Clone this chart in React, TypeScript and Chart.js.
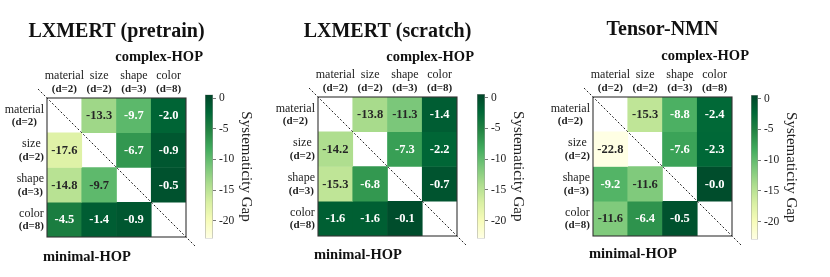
import React, { useEffect, useRef } from "react";
import { Chart, registerables } from "chart.js";

Chart.register(...registerables);

// ---------------- data ----------------
const COLS = ["material", "size", "shape", "color"];
const DIMS = ["(d=2)", "(d=2)", "(d=3)", "(d=8)"];
const TITLES = ["LXMERT (pretrain)", "LXMERT (scratch)", "Tensor-NMN"];
const TOP_LABEL = "complex-HOP";
const BOTTOM_LABEL = "minimal-HOP";
const CB_LABEL = "Systematicity Gap";

// rows: minimal-HOP attribute, columns: complex-HOP attribute (diagonal empty)
const PRETRAIN: (number | null)[][] = [
  [null, -13.3, -9.66, -2.0],
  [-17.6, null, -6.7, -0.9],
  [-14.8, -9.74, null, -0.5],
  [-4.5, -1.4, -0.9, null],
];
const SCRATCH: (number | null)[][] = [
  [null, -13.8, -11.3, -1.4],
  [-14.2, null, -7.3, -2.2],
  [-15.3, -6.8, null, -0.7],
  [-1.6, -1.6, -0.1, null],
];
const TENSOR_NMN: (number | null)[][] = [
  [null, -15.3, -8.8, -2.4],
  [-22.8, null, -7.6, -2.3],
  [-9.2, -11.6, null, -0.04],
  [-11.6, -6.4, -0.5, null],
];

const CB_MIN = -22.9;
const CB_MAX = 0.6;
const CB_TICKS = [0, -5, -10, -15, -20];
const DARK_TEXT_BELOW = -9.7;

// ---------------- style / layout ----------------
const FF = "'Liberation Serif', 'Times New Roman', serif";
const YLGN = [
  "#ffffe5", "#f7fcb9", "#d9f0a3", "#addd8e", "#78c679",
  "#41ab5d", "#238443", "#006837", "#004529",
];
const H = 277;
const MAT = 139;

const PANELS = [
  { data: PRETRAIN, title: TITLES[0], mat: { l: 47, t: 98 }, cb: { l: 205, t: 94.5, r: 213, b: 238.5 }, titleY: 32, topY: 57, botY: 257 },
  { data: SCRATCH, title: TITLES[1], mat: { l: 318, t: 97 }, cb: { l: 477, t: 94, r: 485, b: 238.5 }, titleY: 31.5, topY: 57, botY: 255.5 },
  { data: TENSOR_NMN, title: TITLES[2], mat: { l: 593, t: 97 }, cb: { l: 750.5, t: 95, r: 758, b: 239.5 }, titleY: 30, topY: 56, botY: 254.5 },
];

function hexToRgb(h: string) {
  return [parseInt(h.slice(1, 3), 16), parseInt(h.slice(3, 5), 16), parseInt(h.slice(5, 7), 16)];
}
function ylgn(v: number) {
  let t = (v - CB_MIN) / (CB_MAX - CB_MIN);
  t = Math.max(0, Math.min(1, t));
  const p = t * 8;
  const i = Math.min(7, Math.floor(p));
  const f = p - i;
  const a = hexToRgb(YLGN[i]);
  const b = hexToRgb(YLGN[i + 1]);
  const c = a.map((x, k) => Math.round(x + (b[k] - x) * f));
  return `rgb(${c[0]},${c[1]},${c[2]})`;
}

const HEAT_LEFT = 47;
const HEAT_W = 210;
const CB_AXIS_W = 42;
const CB_PAD = 4;

function Panel({ p }: { p: (typeof PANELS)[number] }) {
  const heatRef = useRef<HTMLCanvasElement>(null);
  const cbRef = useRef<HTMLCanvasElement>(null);
  const x0 = p.mat.l - HEAT_LEFT;
  const cbX0 = p.cb.l - CB_PAD;
  const cbW = CB_PAD + (p.cb.r - p.cb.l) + CB_AXIS_W + CB_PAD;

  useEffect(() => {
    const textPlugin = {
      id: "heatText",
      afterDraw(chart: any) {
        const { ctx, chartArea } = chart;
        const { left, right, top, bottom } = chartArea;
        const xs = chart.scales.x;
        const ys = chart.scales.y;
        ctx.save();
        // frame
        ctx.strokeStyle = "#333";
        ctx.lineWidth = 1.1;
        ctx.strokeRect(left, top, right - left, bottom - top);
        // diagonal
        ctx.setLineDash([2, 2]);
        ctx.lineWidth = 1;
        ctx.strokeStyle = "#222";
        ctx.beginPath();
        ctx.moveTo(left - 9, top - 9);
        ctx.lineTo(right + 9, bottom + 9);
        ctx.stroke();
        ctx.setLineDash([]);
        // cell values
        ctx.textAlign = "center";
        ctx.textBaseline = "middle";
        ctx.font = `bold 12.5px ${FF}`;
        p.data.forEach((row, r) => {
          row.forEach((v, c) => {
            if (v === null) return;
            const x = xs.getPixelForValue(c);
            const y = ys.getPixelForValue(r + 0.5);
            ctx.fillStyle = v < DARK_TEXT_BELOW ? "#262626" : "#ffffff";
            ctx.fillText(v.toFixed(1), x, y + 0.5);
          });
        });
        // column labels
        ctx.fillStyle = "#222";
        COLS.forEach((c, i) => {
          const x = xs.getPixelForValue(i);
          ctx.font = `12px ${FF}`;
          ctx.fillText(c, x, top - 22);
          ctx.font = `bold 11px ${FF}`;
          ctx.fillText(DIMS[i], x, top - 9);
        });
        // row labels
        COLS.forEach((c, i) => {
          const y = ys.getPixelForValue(i + 0.5);
          ctx.font = `12px ${FF}`;
          const w1 = ctx.measureText(c).width;
          ctx.font = `bold 11px ${FF}`;
          const w2 = ctx.measureText(DIMS[i]).width;
          const cx = left - 3 - Math.max(w1, w2) / 2;
          ctx.font = `12px ${FF}`;
          ctx.fillText(c, cx, y - 6);
          ctx.font = `bold 11px ${FF}`;
          ctx.fillText(DIMS[i], cx, y + 7);
        });
        // titles
        ctx.fillStyle = "#111";
        ctx.font = `bold 20px ${FF}`;
        ctx.fillText(p.title, (left + right) / 2, p.titleY);
        ctx.font = `bold 14.5px ${FF}`;
        ctx.textAlign = "right";
        ctx.fillText(TOP_LABEL, right + 17, p.topY);
        ctx.textAlign = "left";
        ctx.fillText(BOTTOM_LABEL, left - 4, p.botY);
        ctx.restore();
      },
    };

    const heat = new Chart(heatRef.current as HTMLCanvasElement, {
      type: "bar",
      data: {
        labels: COLS,
        datasets: p.data.map((row, r) => ({
          label: COLS[r],
          data: row.map((v) => (v === null ? null : [r, r + 1])) as any,
          backgroundColor: row.map((v) => (v === null ? "rgba(0,0,0,0)" : ylgn(v))),
          grouped: false,
          barPercentage: 1,
          categoryPercentage: 1,
          borderWidth: 0,
        })),
      },
      options: {
        responsive: false,
        animation: false,
        devicePixelRatio: 1,
        layout: {
          padding: { left: HEAT_LEFT, top: p.mat.t, right: HEAT_W - HEAT_LEFT - MAT, bottom: H - p.mat.t - MAT },
        },
        plugins: { legend: { display: false }, tooltip: { enabled: false } },
        scales: {
          x: { display: false },
          y: { display: false, min: 0, max: 4, reverse: true },
        },
      } as any,
      plugins: [textPlugin],
    });

    const cb = new Chart(cbRef.current as HTMLCanvasElement, {
      type: "bar",
      data: {
        labels: [""],
        datasets: [
          {
            data: [[CB_MIN, CB_MAX]] as any,
            backgroundColor: (ctx: any) => {
              const chart = ctx.chart;
              const area = chart.chartArea;
              if (!area) return YLGN[4];
              const g = chart.ctx.createLinearGradient(0, area.bottom, 0, area.top);
              YLGN.forEach((col, i) => g.addColorStop(i / 8, col));
              return g;
            },
            borderColor: "#999",
            borderWidth: 0.8,
            borderSkipped: false,
            barPercentage: 1,
            categoryPercentage: 1,
          },
        ],
      },
      options: {
        responsive: false,
        animation: false,
        devicePixelRatio: 1,
        layout: { padding: { left: CB_PAD, right: CB_PAD, top: p.cb.t, bottom: H - p.cb.b } },
        plugins: { legend: { display: false }, tooltip: { enabled: false } },
        scales: {
          x: { display: false },
          y: {
            position: "right",
            min: CB_MIN,
            max: CB_MAX,
            afterBuildTicks: (s: any) => {
              s.ticks = CB_TICKS.map((v) => ({ value: v }));
            },
            afterFit: (s: any) => {
              s.width = CB_AXIS_W;
            },
            grid: { drawOnChartArea: false, drawTicks: true, tickLength: 3, color: "#555", lineWidth: 0.8 },
            border: { display: false },
            ticks: { padding: 3, color: "#222", font: { family: FF, size: 11.5 } },
            title: { display: true, text: CB_LABEL, color: "#222", padding: 0, font: { family: FF, size: 15 } },
          },
        },
      } as any,
    });

    return () => {
      heat.destroy();
      cb.destroy();
    };
  }, []);

  return (
    <>
      <canvas
        ref={heatRef}
        width={HEAT_W}
        height={H}
        style={{ position: "absolute", left: x0, top: 0, width: HEAT_W, height: H }}
      />
      <canvas
        ref={cbRef}
        width={cbW}
        height={H}
        style={{ position: "absolute", left: cbX0, top: 0, width: cbW, height: H }}
      />
    </>
  );
}

export default function App() {
  return (
    <div style={{ position: "absolute", left: 0, top: 0, width: 830, height: H, background: "#fff", overflow: "hidden" }}>
      {PANELS.map((p, i) => (
        <Panel key={i} p={p} />
      ))}
    </div>
  );
}
